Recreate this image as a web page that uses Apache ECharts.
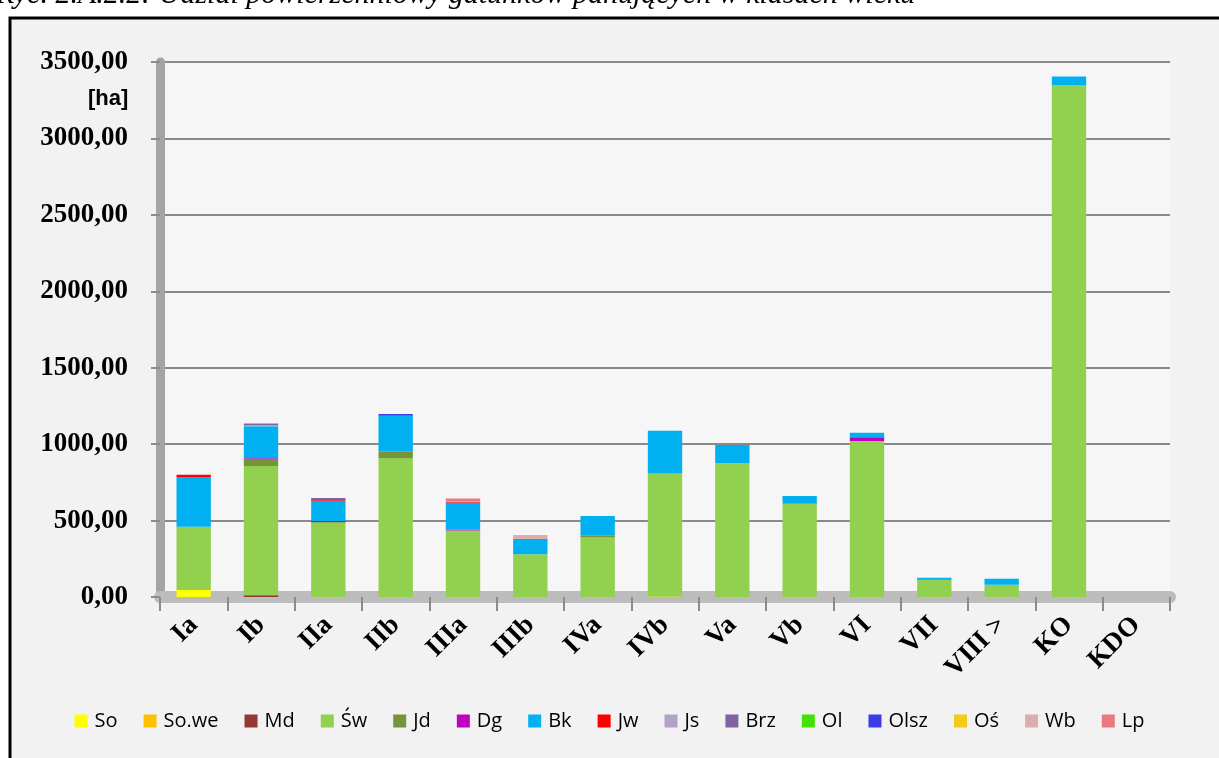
<!DOCTYPE html>
<html>
<head>
<meta charset="utf-8">
<script src="https://cdn.jsdelivr.net/npm/echarts@6/dist/echarts.min.js"></script>
<style>
html,body{margin:0;padding:0;background:#fff}
#c{width:1219px;height:758px}
</style>
</head>
<body>
<div id="c"></div>
<script>
// klasy wieku
const categories = ['Ia','Ib','IIa','IIb','IIIa','IIIb','IVa','IVb','Va','Vb','VI','VII','VIII >','KO','KDO'];
const yTicks = [0,500,1000,1500,2000,2500,3000,3500];

// gatunki panujące [ha]
const So   = [45,0,0,0,0,0,0,3,0,0,0,0,0,0,0];
const SoWe = [0,0,0,0,0,0,0,0,0,0,0,0,0,0,0];
const Md   = [0,12,0,0,0,0,0,0,0,0,0,0,0,0,0];
const Sw   = [415,845,485,910,435,280,390,805,875,610,1020,115,80,3350,0];
const Jd   = [0,45,5,40,0,0,10,0,0,0,0,0,0,0,0];
const Dg   = [0,5,8,0,5,0,0,0,0,0,25,3,0,0,0];
const Bk   = [325,210,130,235,175,100,130,280,120,50,30,8,40,55,0];
const Jw   = [15,0,5,0,5,0,0,0,0,0,0,0,0,0,0];
const Js   = [0,8,0,0,5,0,0,0,0,0,0,0,0,0,0];
const Brz  = [0,10,15,0,0,0,0,0,0,0,0,0,0,0,0];
const Ol   = [0,0,0,0,0,0,0,0,0,0,0,0,0,0,0];
const Olsz = [0,0,0,12,0,0,0,0,0,0,0,0,0,0,0];
const Os   = [0,0,0,0,0,0,0,0,0,0,0,0,0,0,0];
const Wb   = [0,0,0,0,0,25,0,0,0,0,0,0,0,0,0];
const Lp   = [0,0,0,0,20,0,0,0,0,0,0,0,0,0,0];

const species = [
  ['So', So, '#FFFF00'],
  ['So.we', SoWe, '#FFC000'],
  ['Md', Md, '#953735'],
  ['Św', Sw, '#92D050'],
  ['Jd', Jd, '#77933C'],
  ['Dg', Dg, '#C000C0'],
  ['Bk', Bk, '#00B0F0'],
  ['Jw', Jw, '#FF0000'],
  ['Js', Js, '#B3A2C7'],
  ['Brz', Brz, '#8064A2'],
  ['Ol', Ol, '#44E00A'],
  ['Olsz', Olsz, '#3C3CE6'],
  ['Oś', Os, '#F2CB1D'],
  ['Wb', Wb, '#DBAEAD'],
  ['Lp', Lp, '#E8797D']
];

const chart = echarts.init(document.getElementById('c'));

chart.setOption({
  backgroundColor: '#ffffff',
  animation: false,
  graphic: [
    { type: 'rect', z: -10, shape: { x: 10, y: 18, width: 1240, height: 780 },
      style: { fill: '#f2f2f2', stroke: '#000', lineWidth: 3 } },
    { type: 'text', left: -4, top: -20, z: -5,
      style: { text: 'Ryc. 2.A.2.2: Udział powierzchniowy gatunków panujących w klasach wieku',
        font: 'italic 30px "Liberation Serif"', fill: '#000' } },
    { type: 'text', left: 88, top: 88,
      style: { text: '[ha]', font: 'bold 22px "Liberation Sans"', fill: '#000' } }
  ],
  grid: {
    left: 160, right: 49, top: 62, bottom: 161,
    show: true, backgroundColor: '#f6f6f6', borderWidth: 0
  },
  legend: {
    bottom: 22, left: 'center', itemWidth: 13, itemHeight: 13, itemGap: 26,
    icon: 'rect',
    textStyle: { fontFamily: 'Open Sans', fontSize: 20, color: '#000', padding: [0, 0, 0, 2] },
    data: species.map(s => s[0])
  },
  xAxis: {
    type: 'category',
    data: categories,
    axisLine: { lineStyle: { color: '#bcbcbc', width: 12 } },
    axisTick: { show: true, length: 14, lineStyle: { color: '#8c8c8c', width: 2 } },
    axisLabel: {
      rotate: 45, margin: 24, interval: 0,
      fontFamily: 'Liberation Serif', fontWeight: 'bold', fontSize: 27, color: '#000'
    }
  },
  yAxis: {
    type: 'value',
    min: yTicks[0], max: yTicks[yTicks.length - 1], interval: 500,
    axisLine: { show: true, lineStyle: { color: '#a4a4a4', width: 9 } },
    axisTick: { show: true, length: 9, lineStyle: { color: '#8c8c8c', width: 2 } },
    splitLine: { lineStyle: { color: '#8a8a8a', width: 2 } },
    axisLabel: {
      margin: 32,
      fontFamily: 'Liberation Serif', fontWeight: 'bold', fontSize: 27, color: '#000',
      formatter: v => v.toFixed(2).replace('.', ',')
    }
  },
  series: species.map(s => ({
    name: s[0],
    type: 'bar',
    stack: 'all',
    barWidth: '51%',
    data: s[1],
    itemStyle: { color: s[2] }
  }))
});
</script>
</body>
</html>
